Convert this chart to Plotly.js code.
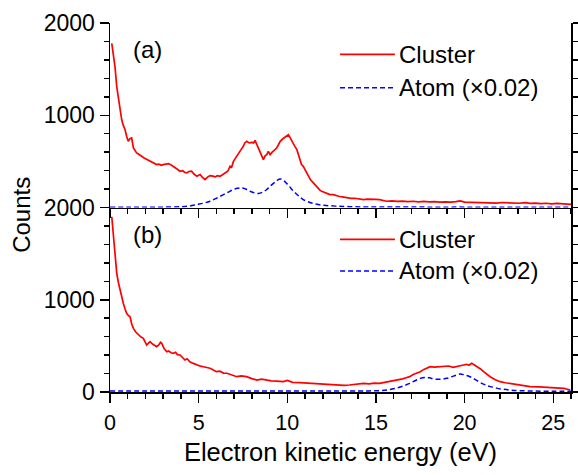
<!DOCTYPE html>
<html>
<head>
<meta charset="utf-8">
<script src="https://cdn.plot.ly/plotly-3.0.1.min.js"></script>
<style>html,body{margin:0;padding:0;background:#fff;}#chart{width:578px;height:475px;}</style>
</head>
<body>
<div id="chart"></div>
<script>
// Panel (a): cluster spectrum
const aClusterE = [0.1,0.2,0.28,0.38,0.47,0.56,0.66,0.75,0.85,0.94,1.03,1.12,1.22,1.32,1.4,1.5,1.6,1.7,1.79,1.9,2.0,2.1,2.26,2.4,2.5,2.63,2.75,2.9,3.0,3.15,3.3,3.45,3.57,3.7,3.8,3.95,4.1,4.2,4.33,4.45,4.6,4.75,4.9,5.0,5.08,5.2,5.36,5.5,5.64,5.8,5.93,6.05,6.2,6.35,6.5,6.65,6.77,6.85,6.96,7.1,7.24,7.4,7.52,7.6,7.71,7.85,8.0,8.1,8.18,8.27,8.37,8.45,8.56,8.65,8.75,8.84,8.93,9.03,9.12,9.2,9.3,9.4,9.5,9.6,9.75,9.88,10.0,10.06,10.15,10.26,10.4,10.54,10.62,10.7,10.8,10.9,11.05,11.2,11.3,11.47,11.6,11.75,11.85,11.94,12.05,12.2,12.4,12.6,12.75,12.9,13.1,13.36,13.6,13.8,14.0,14.3,14.5,14.8,15.0,15.2,15.4,15.6,15.9,16.2,16.5,16.8,17.1,17.4,17.7,18.0,18.3,18.6,18.9,19.2,19.5,19.75,20.0,20.3,20.6,20.9,21.2,21.5,21.8,22.1,22.4,22.8,23.1,23.4,23.7,24.0,24.3,24.6,24.9,25.2,25.5,25.8,26.0];
const aClusterCounts = [1780,1640,1528,1311,1203,1060,951,890,843,770,717,745,753,645,620,591,580,562,555,540,530,522,500,490,478,465,470,458,465,470,476,460,447,430,415,393,398,382,375,390,393,360,338,350,357,330,303,330,346,340,332,345,338,355,375,395,447,430,500,545,591,630,663,700,717,700,706,700,728,690,645,610,573,519,560,573,609,573,595,609,625,645,680,717,745,764,775,789,760,717,670,627,570,519,465,447,390,338,303,267,235,200,185,176,168,159,140,140,128,122,115,105,98,100,92,86,90,84,88,86,74,68,72,66,70,64,68,62,66,60,64,58,62,58,64,72,58,56,54,50,56,52,48,54,50,50,46,52,44,48,42,46,40,44,38,32,34];

// Panel (a): atom spectrum (x0.02)
const aAtomE = [0,1,2,3,4,4.5,4.9,5.3,5.64,6.0,6.4,6.7,6.96,7.2,7.43,7.65,7.9,8.15,8.37,8.6,8.84,9.0,9.2,9.4,9.6,9.8,9.97,10.2,10.44,10.7,10.9,11.2,11.47,11.8,12.2,12.8,13.5,14.5,16,18,20,22,24,26];
const aAtomCounts = [2,2,3,4,8,16,32,48,68,100,140,170,195,208,213,200,176,158,151,165,195,225,259,290,310,290,259,210,159,115,86,60,43,30,22,14,9,6,5,4,4,3,3,3];

// Panel (b): cluster spectrum
const bClusterE = [0.1,0.15,0.22,0.28,0.38,0.47,0.56,0.65,0.75,0.85,0.94,1.03,1.13,1.22,1.32,1.45,1.6,1.75,1.88,1.97,2.07,2.17,2.26,2.4,2.5,2.63,2.75,2.85,2.92,3.05,3.2,3.3,3.45,3.57,3.7,3.8,3.95,4.1,4.23,4.35,4.5,4.7,4.9,5.1,5.27,5.45,5.64,5.8,6.0,6.2,6.4,6.6,6.85,7.15,7.4,7.7,8.0,8.28,8.55,8.84,9.1,9.4,9.78,10.0,10.3,10.7,11.0,11.3,11.66,12.0,12.3,12.6,12.9,13.2,13.5,13.8,14.0,14.3,14.6,14.9,15.2,15.5,15.8,16.0,16.2,16.5,16.7,16.9,17.1,17.3,17.5,17.7,17.9,18.06,18.3,18.6,18.85,19.1,19.35,19.56,19.75,19.94,20.1,20.25,20.4,20.55,20.7,20.9,21.07,21.25,21.44,21.7,22.0,22.3,22.76,23.2,23.7,24.2,24.64,25.1,25.6,25.8,25.96];
const bClusterCounts = [1900,1792,1650,1539,1287,1190,1106,1030,962,900,853,830,816,740,690,650,618,595,582,540,509,530,545,520,505,491,510,540,528,470,437,445,425,419,430,405,401,370,347,360,328,310,293,280,274,265,257,240,220,225,205,203,185,166,175,166,145,130,140,130,120,118,112,125,105,101,98,92,87,85,80,76,78,72,76,82,90,94,88,96,94,105,115,120,130,142,155,166,190,205,220,245,262,274,270,274,285,282,268,274,285,293,300,290,311,295,274,250,220,190,166,135,112,100,87,72,58,55,51,46,40,30,22];

// Panel (b): atom spectrum (x0.02)
const bAtomE = [0,2,4,6,8,10,12,13,14,14.6,15.2,15.7,16.1,16.5,16.9,17.2,17.5,17.87,18.1,18.4,18.7,19.0,19.4,19.75,20.0,20.3,20.6,20.9,21.2,21.44,21.8,22.2,22.6,23.1,24,25,26];
const bAtomCounts = [10,10,10,10,10,10,10,10,10,12,14,24,40,62,94,122,148,159,150,138,140,148,175,195,185,166,135,101,75,58,42,29,20,14,10,8,8];

const xTickVals = [0,5,10,15,20,25];
const yTickValsA = [0,1000,2000];
const yTickTextA = ['', '1000', '2000'];
const yTickValsB = [0,1000,2000];
const yTickTextB = ['0', '1000', '2000'];
const seriesNames = ['Cluster', 'Atom (\u00d70.02)'];
const panelLabels = ['(a)', '(b)'];

const FONT = 'Liberation Sans, Arial, Helvetica, sans-serif';
const RED = '#ff0000';
const BLUE = '#0000ff';
const LW = 1.7;

const traces = [
  {x: aClusterE, y: aClusterCounts, xaxis: 'x2', yaxis: 'y2', mode: 'lines', name: seriesNames[0], line: {color: RED, width: LW}, showlegend: false},
  {x: aAtomE, y: aAtomCounts, xaxis: 'x2', yaxis: 'y2', mode: 'lines', name: seriesNames[1], line: {color: BLUE, width: 1.5, dash: '5px,3px', shape: 'spline'}, showlegend: false},
  {x: bClusterE, y: bClusterCounts, xaxis: 'x', yaxis: 'y', mode: 'lines', name: seriesNames[0], line: {color: RED, width: LW}, showlegend: false},
  {x: bAtomE, y: bAtomCounts, xaxis: 'x', yaxis: 'y', mode: 'lines', name: seriesNames[1], line: {color: BLUE, width: 1.5, dash: '5px,3px', shape: 'spline'}, showlegend: false}
];

const axLine = {showline: true, linecolor: 'black', linewidth: 1.5, showgrid: false, zeroline: false, tickcolor: 'black', tickwidth: 1.5};

const layout = {
  width: 578, height: 475,
  margin: {l: 110, r: 7, t: 23, b: 83},
  paper_bgcolor: 'white', plot_bgcolor: 'white',
  font: {family: FONT, color: 'black', size: 21},
  showlegend: false,
  xaxis: Object.assign({}, axLine, {
    domain: [0, 1], anchor: 'y', range: [0, 26], tickvals: xTickVals, ticks: 'outside', ticklen: 9,
    minor: {dtick: 1, ticks: 'outside', ticklen: 5, tickcolor: 'black', tickwidth: 1.5},
    tickfont: {size: 21.5}, ticklabelstandoff: 2,
    title: {text: 'Electron kinetic energy (eV)', font: {size: 25.5}, standoff: 9}
  }),
  yaxis: Object.assign({}, axLine, {
    domain: [0, 0.5], anchor: 'x', range: [0, 2000], tickvals: yTickValsB, ticktext: yTickTextB,
    ticks: 'outside', ticklen: 9, mirror: 'ticks',
    minor: {dtick: 200, ticks: 'outside', ticklen: 5, tickcolor: 'black', tickwidth: 1.5},
    tickfont: {size: 23}
  }),
  xaxis2: Object.assign({}, axLine, {
    domain: [0, 1], anchor: 'y2', range: [0, 26], tickvals: xTickVals, ticks: 'outside', ticklen: 9,
    showticklabels: false,
    minor: {dtick: 1, ticks: 'outside', ticklen: 5, tickcolor: 'black', tickwidth: 1.5}
  }),
  xaxis3: Object.assign({}, axLine, {
    overlaying: 'x2', anchor: 'y2', side: 'top', range: [0, 26], tickvals: xTickVals, ticks: 'inside', ticklen: 9,
    showticklabels: false,
    minor: {dtick: 1, ticks: 'inside', ticklen: 5, tickcolor: 'black', tickwidth: 1.5}
  }),
  yaxis2: Object.assign({}, axLine, {
    domain: [0.5, 1], anchor: 'x2', range: [0, 2000], tickvals: yTickValsA, ticktext: yTickTextA,
    ticks: 'outside', ticklen: 9, mirror: 'ticks',
    minor: {dtick: 200, ticks: 'outside', ticklen: 5, tickcolor: 'black', tickwidth: 1.5},
    tickfont: {size: 23}
  }),
  shapes: [
    {type: 'line', xref: 'paper', yref: 'paper', x0: 0.499, x1: 0.618, y0: 0.915, y1: 0.915, line: {color: RED, width: LW}},
    {type: 'line', xref: 'paper', yref: 'paper', x0: 0.499, x1: 0.618, y0: 0.8247, y1: 0.8247, line: {color: BLUE, width: 1.5, dash: '5px,3px'}},
    {type: 'line', xref: 'paper', yref: 'paper', x0: 0.499, x1: 0.618, y0: 0.4138, y1: 0.4138, line: {color: RED, width: LW}},
    {type: 'line', xref: 'paper', yref: 'paper', x0: 0.499, x1: 0.618, y0: 0.328, y1: 0.328, line: {color: BLUE, width: 1.5, dash: '5px,3px'}}
  ],
  annotations: [
    {text: seriesNames[0], xref: 'paper', yref: 'paper', x: 0.622, y: 0.915, xanchor: 'left', yanchor: 'middle', showarrow: false, font: {size: 24}},
    {text: seriesNames[1], xref: 'paper', yref: 'paper', x: 0.622, y: 0.8247, xanchor: 'left', yanchor: 'middle', showarrow: false, font: {size: 24}},
    {text: seriesNames[0], xref: 'paper', yref: 'paper', x: 0.622, y: 0.4138, xanchor: 'left', yanchor: 'middle', showarrow: false, font: {size: 24}},
    {text: seriesNames[1], xref: 'paper', yref: 'paper', x: 0.622, y: 0.328, xanchor: 'left', yanchor: 'middle', showarrow: false, font: {size: 24}},
    {text: panelLabels[0], xref: 'paper', yref: 'paper', x: 0.0824, y: 0.927, xanchor: 'center', yanchor: 'middle', showarrow: false, font: {size: 24}},
    {text: panelLabels[1], xref: 'paper', yref: 'paper', x: 0.0824, y: 0.4255, xanchor: 'center', yanchor: 'middle', showarrow: false, font: {size: 24}},
    {text: 'Counts', xref: 'paper', yref: 'paper', x: -0.191, y: 0.48, xanchor: 'center', yanchor: 'middle', textangle: -90, showarrow: false, font: {size: 24}}
  ]
};

Plotly.newPlot('chart', traces, layout, {staticPlot: true, displayModeBar: false});
</script>
</body>
</html>
